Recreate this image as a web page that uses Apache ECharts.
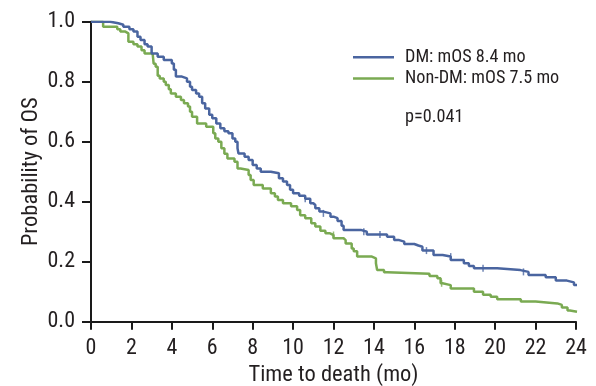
<!DOCTYPE html>
<html>
<head>
<meta charset="utf-8">
<script src="https://cdn.jsdelivr.net/npm/echarts@6/dist/echarts.min.js"></script>
<style>
html,body{margin:0;padding:0;background:#fff;}
#chart{width:596px;height:386px;}
</style>
</head>
<body>
<div id="chart"></div>
<script>
// Kaplan-Meier step points [month, survival]
var dmCurve = [[0,1],[0.95,0.995],[1.35,0.99],[1.6,0.983],[1.9,0.975],[2.1,0.967],[2.3,0.95],[2.45,0.939],[2.65,0.925],[2.8,0.917],[3.0,0.894],[3.3,0.883],[3.6,0.872],[4.0,0.861],[4.1,0.84],[4.2,0.817],[4.5,0.811],[4.75,0.8],[4.9,0.783],[5.0,0.772],[5.2,0.761],[5.35,0.75],[5.5,0.728],[5.65,0.711],[5.85,0.69],[6.0,0.678],[6.2,0.661],[6.4,0.645],[6.6,0.635],[6.8,0.628],[7.0,0.611],[7.14,0.6],[7.25,0.578],[7.3,0.561],[7.6,0.55],[7.8,0.539],[8.0,0.522],[8.2,0.511],[8.4,0.5],[8.9,0.495],[9.3,0.478],[9.5,0.467],[9.7,0.456],[9.85,0.44],[10.0,0.428],[10.3,0.42],[10.6,0.41],[10.85,0.395],[11.0,0.389],[11.1,0.378],[11.3,0.367],[11.5,0.361],[11.85,0.35],[12.0,0.345],[12.2,0.336],[12.4,0.32],[12.5,0.306],[13.35,0.3],[13.65,0.291],[14.65,0.283],[15.0,0.272],[15.25,0.267],[15.5,0.259],[16.0,0.254],[16.2,0.25],[16.4,0.237],[16.95,0.222],[17.4,0.217],[17.8,0.206],[18.45,0.195],[18.7,0.186],[18.95,0.178],[20.1,0.172],[21.25,0.166],[21.65,0.156],[22.5,0.148],[23.0,0.137],[23.55,0.131],[23.9,0.122],[24.05,0.122]];
var nonDmCurve = [[0,1],[0.6,0.983],[1.3,0.975],[1.45,0.967],[1.7,0.961],[1.85,0.933],[2.1,0.925],[2.3,0.917],[2.5,0.905],[2.65,0.894],[3.05,0.889],[3.1,0.86],[3.2,0.85],[3.3,0.82],[3.4,0.811],[3.6,0.8],[3.7,0.789],[3.85,0.775],[3.95,0.761],[4.2,0.75],[4.45,0.739],[4.6,0.728],[4.8,0.717],[4.9,0.7],[5.0,0.683],[5.25,0.661],[5.7,0.65],[6.05,0.628],[6.15,0.611],[6.3,0.6],[6.45,0.578],[6.6,0.56],[6.75,0.544],[7.1,0.533],[7.25,0.511],[7.4,0.506],[7.8,0.489],[7.9,0.472],[8.05,0.456],[8.5,0.444],[8.9,0.428],[9.1,0.417],[9.25,0.406],[9.5,0.395],[9.9,0.385],[10.2,0.372],[10.35,0.355],[10.6,0.345],[10.9,0.328],[11.1,0.317],[11.35,0.303],[11.6,0.295],[11.8,0.289],[12.0,0.278],[12.5,0.272],[12.6,0.261],[12.9,0.244],[13.0,0.235],[13.17,0.217],[13.9,0.211],[14.1,0.195],[14.16,0.172],[14.5,0.165],[14.66,0.16],[16.75,0.152],[17.14,0.145],[17.3,0.128],[17.4,0.122],[17.8,0.111],[18.95,0.1],[19.4,0.09],[19.78,0.083],[20.1,0.075],[21.27,0.067],[22.0,0.061],[23.08,0.056],[23.3,0.047],[23.58,0.037],[23.7,0.033],[24.05,0.033]];
var dmCensor = [[10.6,0.41],[11.5,0.361],[13.5,0.3],[14.3,0.291],[16.6,0.237],[17.8,0.217],[19.4,0.178],[21.4,0.166]];
var nonDmCensor = [[17.35,0.128],[12.0,0.289]];
var xTicks = [0,2,4,6,8,10,12,14,16,18,20,22,24];
var yTicks = [0.0,0.2,0.4,0.6,0.8,1.0];
var seriesNames = ['DM: mOS 8.4 mo','Non-DM: mOS 7.5 mo'];
var pValueText = 'p=0.041';

var FONT = '"Roboto Condensed","Liberation Sans Narrow","DejaVu Sans Condensed",sans-serif';
var BLUE = '#4a65a0', GREEN = '#7aaa52', AXIS = '#1a1a1a', TEXT = '#231f20';

var chart = echarts.init(document.getElementById('chart'), null, {renderer:'canvas'});
chart.setOption({
  animation:false,
  backgroundColor:'#fff',
  grid:{left:91,right:20,top:21.7,bottom:64.3,containLabel:false,outerBoundsMode:'none'},
  legend:{
    data:seriesNames.map(function(n,i){return {name:n,icon:'rect',itemStyle:{color:i?GREEN:BLUE}};}),
    orient:'vertical',left:353,top:46.5,padding:0,itemWidth:41,itemHeight:2.5,itemGap:0,
    selectedMode:false,
    textStyle:{fontFamily:FONT,fontSize:18.2,color:TEXT,lineHeight:21.4,padding:[0,0,0,6]}
  },
  graphic:[{type:'text',left:405,top:108.5,style:{text:pValueText,font:'18.2px '+FONT,fill:TEXT}}],
  xAxis:{
    type:'value',min:xTicks[0],max:xTicks[xTicks.length-1],interval:2,
    name:'Time to death (mo)',nameLocation:'middle',nameGap:42,nameMoveOverlap:false,
    nameTextStyle:{fontFamily:FONT,fontSize:22.5,color:TEXT},
    axisLine:{show:true,onZero:false,lineStyle:{color:AXIS,width:2}},
    axisTick:{show:true,length:8,lineStyle:{color:AXIS,width:2}},
    axisLabel:{fontFamily:FONT,fontSize:22,color:TEXT,margin:16},
    splitLine:{show:false}
  },
  yAxis:{
    type:'value',min:0,max:1,interval:0.2,
    name:'Probability of OS',nameLocation:'middle',nameGap:48,nameRotate:90,nameMoveOverlap:false,
    nameTextStyle:{fontFamily:FONT,fontSize:22.5,color:TEXT},
    axisLine:{show:true,lineStyle:{color:AXIS,width:2}},
    axisTick:{show:true,length:9,lineStyle:{color:AXIS,width:2}},
    axisLabel:{fontFamily:FONT,fontSize:22,color:TEXT,margin:16,formatter:function(v){return v.toFixed(1);}},
    splitLine:{show:false}
  },
  series:[
    {name:seriesNames[0],type:'line',step:'end',data:dmCurve,showSymbol:false,symbol:'none',
     lineStyle:{color:BLUE,width:2.5},itemStyle:{color:BLUE},z:3},
    {name:seriesNames[1],type:'line',step:'end',data:nonDmCurve,showSymbol:false,symbol:'none',
     lineStyle:{color:GREEN,width:2.5},itemStyle:{color:GREEN},z:2},
    {name:'dmCensor',type:'scatter',data:dmCensor,symbol:'rect',symbolSize:[1.5,7],itemStyle:{color:BLUE},z:4},
    {name:'nonDmCensor',type:'scatter',data:nonDmCensor,symbol:'rect',symbolSize:[1.5,7],itemStyle:{color:GREEN},z:4}
  ]
});
</script>
</body>
</html>
